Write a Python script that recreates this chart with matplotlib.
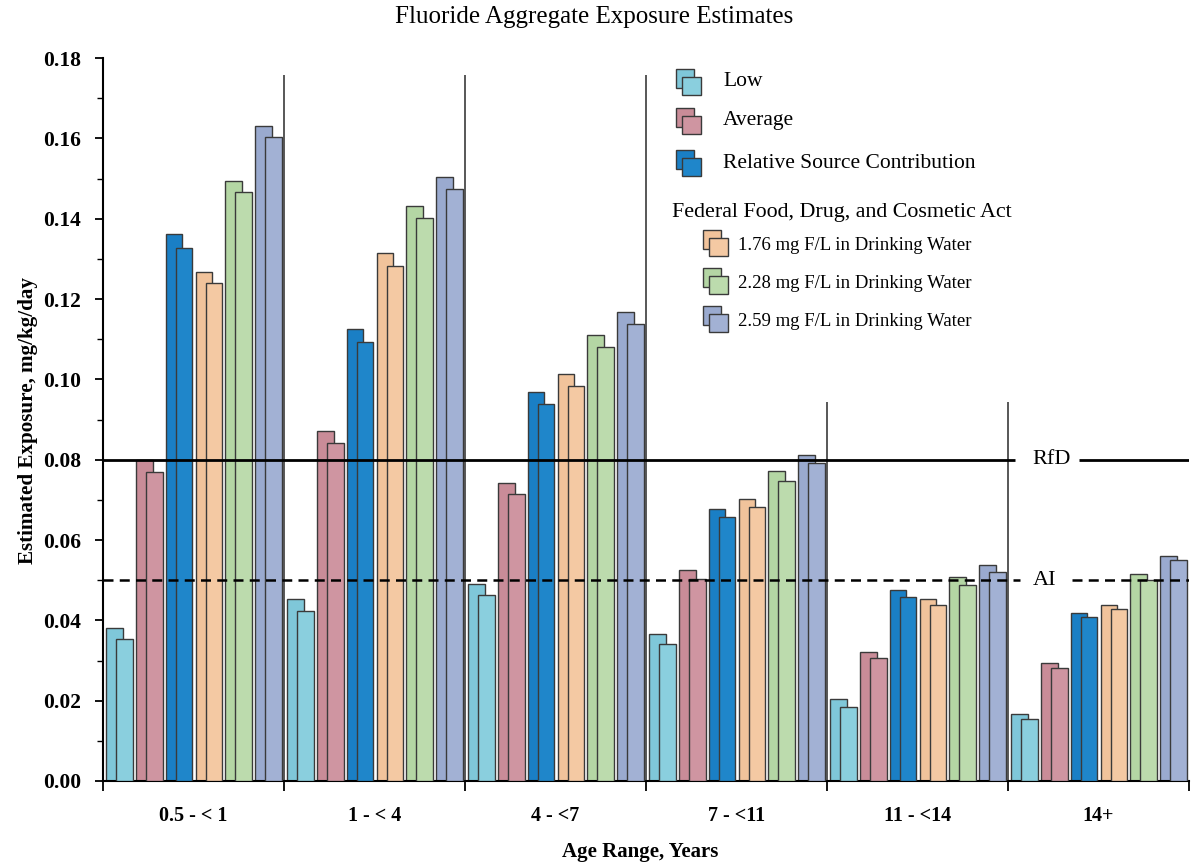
import matplotlib
matplotlib.use("Agg")
import matplotlib.pyplot as plt
from matplotlib.patches import Rectangle
import numpy as np

# ---------------- data ----------------
age_ranges = ["0.5 - < 1", "1 - < 4", "4 - <7", "7 - <11", "11 - <14", "14+"]
series_labels = ["Low", "Average", "Relative Source Contribution",
                 "1.76 mg F/L in Drinking Water", "2.28 mg F/L in Drinking Water",
                 "2.59 mg F/L in Drinking Water"]

# back (taller) bar and front bar of each pseudo-3D pair
low_back = [0.0381, 0.0453, 0.0491, 0.0366, 0.0203, 0.0167]
low_front = [0.0354, 0.0423, 0.0464, 0.0341, 0.0185, 0.0155]
avg_back = [0.0800, 0.0872, 0.0741, 0.0525, 0.0321, 0.0295]
avg_front = [0.0770, 0.0841, 0.0714, 0.0502, 0.0305, 0.0281]
rsc_back = [0.1361, 0.1125, 0.0969, 0.0677, 0.0475, 0.0418]
rsc_front = [0.1327, 0.1094, 0.0938, 0.0657, 0.0457, 0.0408]
f176_back = [0.1266, 0.1314, 0.1013, 0.0701, 0.0453, 0.0437]
f176_front = [0.1240, 0.1283, 0.0983, 0.0681, 0.0437, 0.0428]
f228_back = [0.1495, 0.1432, 0.1111, 0.0771, 0.0507, 0.0516]
f228_front = [0.1467, 0.1402, 0.1080, 0.0748, 0.0487, 0.0500]
f259_back = [0.1630, 0.1504, 0.1168, 0.0811, 0.0539, 0.0561]
f259_front = [0.1603, 0.1473, 0.1138, 0.0791, 0.0521, 0.0549]

rfd = 0.08
ai = 0.05
yticks = [0.00, 0.02, 0.04, 0.06, 0.08, 0.10, 0.12, 0.14, 0.16, 0.18]

backs = [low_back, avg_back, rsc_back, f176_back, f228_back, f259_back]
fronts = [low_front, avg_front, rsc_front, f176_front, f228_front, f259_front]
colors_back = ["#7fc7d9", "#c98c98", "#1a7fc5", "#f1c39b", "#b4d6a4", "#9aaacf"]
colors_front = ["#8acfde", "#cf95a1", "#1f86ca", "#f4c9a3", "#bcdbad", "#a2b1d4"]

# ---------------- figure ----------------
W, H = 1193, 865
fig = plt.figure(figsize=(W / 100, H / 100), dpi=100)
serif = ["Liberation Serif", "DejaVu Serif"]
plt.rcParams["font.family"] = serif

def fx(px):
    return px / W

def fy(py):
    return 1 - py / H

ax = fig.add_axes([fx(103), fy(781), fx(1189) - fx(103), fy(58) - fy(781)])
ax.set_xlim(0, 6)
ax.set_ylim(0, 0.18)

n_groups = len(age_ranges)
x = np.arange(n_groups)
slot = 29.8 / 181
off0 = 3.2 / 181
bw = 16.5 / 181
shift = 10 / 181
edge = "#3a3a3a"

for j in range(len(backs)):
    left = x + off0 + j * slot
    ax.bar(left, backs[j], width=bw, align="edge", color=colors_back[j],
           edgecolor=edge, linewidth=1.0, zorder=2)
    ax.bar(left + shift, fronts[j], width=bw, align="edge", color=colors_front[j],
           edgecolor=edge, linewidth=1.0, zorder=3)

# group divider lines
divider_tops = [0.1758, 0.1758, 0.1758, 0.0944, 0.0944]
for k, top in enumerate(divider_tops, start=1):
    ax.vlines(k, 0, top, color="#4a4a4a", linewidth=1.3, zorder=1)

# reference lines
ax.hlines(rfd, 0, 5.04, color="black", linewidth=2.0, zorder=4)
ax.hlines(rfd, 5.39, 6, color="black", linewidth=2.0, zorder=4)
ax.hlines(ai, 0, 5.065, color="black", linewidth=1.8, linestyles=(0, (4, 2.5)), zorder=4)
ax.hlines(ai, 5.355, 6, color="black", linewidth=1.8, linestyles=(0, (4, 2.5)), zorder=4)
ax.text(5.24, rfd, "RfD", ha="center", va="center", fontsize=16, family=serif)
ax.text(5.20, ai, "AI", ha="center", va="center", fontsize=16, family=serif)

# spines / ticks
for s in ["top", "right"]:
    ax.spines[s].set_visible(False)
for s in ["left", "bottom"]:
    ax.spines[s].set_linewidth(1.5)
ax.set_yticks(yticks)
ax.set_yticklabels([f"{v:.2f}" for v in yticks], fontsize=15.5, fontweight="bold")
ax.set_yticks(np.arange(0.01, 0.18, 0.02), minor=True)
ax.tick_params(axis="y", which="major", length=6, width=1.3, pad=10)
ax.tick_params(axis="y", which="minor", length=4, width=1.0)
ax.set_xticks(np.arange(0, n_groups + 1))
ax.set_xticklabels([""] * (n_groups + 1))
ax.set_xticks(x + 0.5, minor=True)
ax.set_xticklabels(age_ranges, minor=True, fontsize=14.5, fontweight="bold")
ax.tick_params(axis="x", which="major", length=7, width=1.3)
ax.tick_params(axis="x", which="minor", length=0, pad=18)

# titles
fig.text(fx(594), fy(17), "Fluoride Aggregate Exposure Estimates", ha="center",
         va="center", fontsize=18)
fig.text(fx(28), fy(421), "Estimated Exposure, mg/kg/day", rotation=90,
         ha="center", va="center", fontsize=15.2, fontweight="bold")
fig.text(fx(640), fy(852), "Age Range, Years", ha="center", va="center",
         fontsize=15, fontweight="bold")

# legend (custom, pseudo-3D icons)
def icon(xl, ytxt, cb, cf):
    fig.patches.append(Rectangle((fx(xl), fy(ytxt + 6)), fx(18), 19 / H,
                                 transform=fig.transFigure, facecolor=cb,
                                 edgecolor=edge, linewidth=1.0))
    fig.patches.append(Rectangle((fx(xl + 6), fy(ytxt + 13)), fx(19), 18 / H,
                                 transform=fig.transFigure, facecolor=cf,
                                 edgecolor=edge, linewidth=1.0))

main_y = [82, 121, 163]
for j in range(3):
    icon(676, main_y[j], colors_back[j], colors_front[j])
    fig.text(fx(723), fy(main_y[j]), series_labels[j], ha="left", va="center",
             fontsize=15.5)
fig.text(fx(672), fy(213), "Federal Food, Drug, and Cosmetic Act", ha="left",
         va="center", fontsize=15.8)
sub_y = [245, 283, 321]
for k in range(3):
    j = k + 3
    icon(703, sub_y[k] - 2, colors_back[j], colors_front[j])
    fig.text(fx(738), fy(sub_y[k]), series_labels[j], ha="left", va="center",
             fontsize=13.5)

fig.savefig("out.png", dpi=100)
